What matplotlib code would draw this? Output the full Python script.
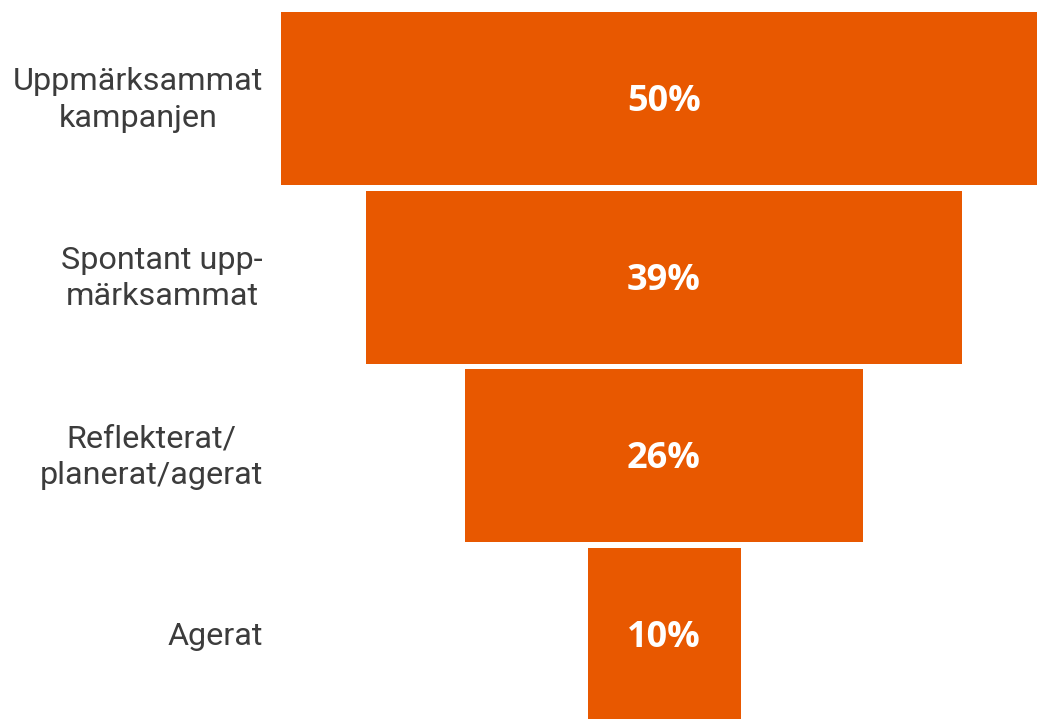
import matplotlib
matplotlib.use("Agg")
import matplotlib.pyplot as plt

# Funnel stages and the share of respondents reaching each one
stages = ["Uppmärksammat\nkampanjen", "Spontant upp-\nmärksammat",
          "Reflekterat/\nplanerat/agerat", "Agerat"]
shares = [50, 39, 26, 10]
value_labels = ["50%", "39%", "26%", "10%"]

BAR_COLOR = "#E85800"
TEXT_COLOR = "#3C3C3C"

W, H, DPI = 1037, 719, 100
fig = plt.figure(figsize=(W / DPI, H / DPI), dpi=DPI)
ax = fig.add_axes([0, 0, 1, 1])

# Horizontal scale: percent units, funnel centred right of the label column
px_per_pct = 15.3
center_px = 664
ax.set_xlim((0 - center_px) / px_per_pct, (W - center_px) / px_per_pct)

# Vertical scale: one unit per stage
row_px = 178.7
first_px = 98.5
ax.set_ylim((H - first_px) / row_px, -first_px / row_px)

ypos = list(range(len(stages)))
lefts = [-s / 2 for s in shares]
ax.barh(ypos, shares, left=lefts, height=173 / row_px, color=BAR_COLOR,
        edgecolor="none")

label_x = (263 - center_px) / px_per_pct
for y, stage, lab in zip(ypos, stages, value_labels):
    ax.text(0, y + 0.02, lab, ha="center", va="center", color="white",
            fontsize=26, fontweight="bold", family=["Open Sans", "DejaVu Sans"])
    ax.text(label_x, y + 0.008, stage, ha="right", va="center", color=TEXT_COLOR,
            fontsize=23.3, family=["Roboto", "DejaVu Sans"], linespacing=1.32,
            multialignment="center")

ax.axis("off")
fig.savefig("out.png", dpi=DPI, facecolor="white")
